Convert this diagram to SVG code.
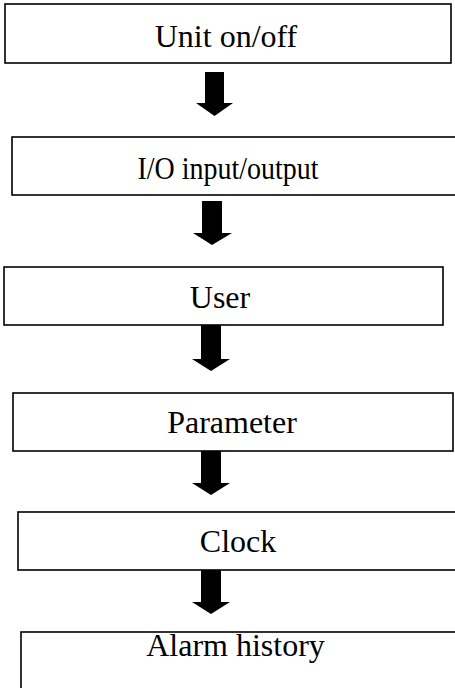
<svg xmlns="http://www.w3.org/2000/svg" width="455" height="688" viewBox="0 0 455 688">
<style>
.box{fill:#fff;stroke:#000;stroke-width:1.6}
.lbl{font-family:"Liberation Serif","Times New Roman",serif;font-size:32px;fill:#000;text-anchor:middle}
.arr{fill:#000;stroke:none}
</style>
<rect width="455" height="688" fill="#fff"/>
<g id="n1"><rect class="box" x="5" y="4" width="446" height="59"/><text class="lbl" x="226" y="47">Unit on/off</text></g>
<g id="n2"><rect class="box" x="12" y="137" width="460" height="58"/><text class="lbl" x="228" y="179" textLength="181" lengthAdjust="spacingAndGlyphs">I/O input/output</text></g>
<g id="n3"><rect class="box" x="4" y="267" width="439" height="58"/><text class="lbl" x="220" y="308">User</text></g>
<g id="n4"><rect class="box" x="13" y="393" width="440" height="58"/><text class="lbl" x="232" y="433">Parameter</text></g>
<g id="n5"><rect class="box" x="18" y="512" width="460" height="58"/><text class="lbl" x="238" y="552">Clock</text></g>
<g id="n6"><rect class="box" x="21" y="632" width="460" height="80"/><text class="lbl" x="235.5" y="656">Alarm history</text></g>
<g id="connectors">
<polygon class="arr" points="205,72 224,72 224,103 233,103 214.5,116 196,103 205,103"/>
<polygon class="arr" points="202,201 222,201 222,233 232,233 212,245 193,233 202,233"/>
<polygon class="arr" points="201,325 221,325 221,359 230,359 211,371 192,359 201,359"/>
<polygon class="arr" points="201,451 221,451 221,483 230,483 211,495 192,483 201,483"/>
<polygon class="arr" points="201,570 221,570 221,602 230,602 211,614 192,602 201,602"/>
</g>
</svg>
